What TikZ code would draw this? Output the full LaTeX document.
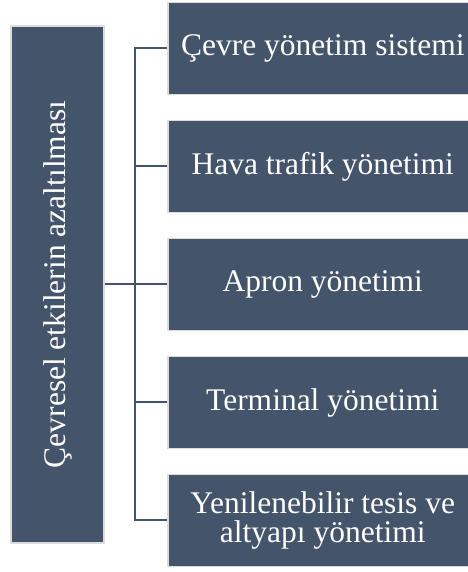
\documentclass[tikz,border=0pt]{standalone}
\usepackage{fontspec}
\setmainfont{Liberation Serif}
\definecolor{slate}{HTML}{44546A}
\definecolor{rim}{HTML}{DCDCDC}
\begin{document}
\begin{tikzpicture}[x=1pt,y=1pt,
  box/.style={fill=slate, draw=rim, line width=1.5pt, text=white, align=center,
    inner sep=0pt, font=\fontsize{31.5}{29}\selectfont},
  item/.style={box, minimum width=310pt, minimum height=92pt, anchor=west},
  link/.style={draw=slate, line width=2pt}]
\useasboundingbox (0,0) rectangle (467,572);
% root box, rotated label
\node[box, minimum width=93pt, minimum height=517pt] (root) at (57.5,287.5) {};
\node[text=white, rotate=90, font=\fontsize{31.5}{29}\selectfont] (rootlbl) at (root.center) {Çevresel etkilerin azaltılması};
% item boxes
\node[item] (a) at (167,523.5) {Çevre yönetim sistemi};
\node[item] (b) at (167,405.5) {Hava trafik yönetimi};
\node[item] (c) at (167,287.5) {Apron yönetimi};
\node[item] (d) at (167,169.5) {Terminal yönetimi};
\node[item] (e) at (167,51.5) {Yenilenebilir tesis ve\\altyapı yönetimi};
% bracket
\coordinate (bus) at (135,287.5);
\draw[link] (root.east) -- (bus);
\draw[link] (a.west) -| (bus) |- (e.west);
\draw[link] (b.west) -- (b.west -| bus);
\draw[link] (c.west) -- (bus);
\draw[link] (d.west) -- (d.west -| bus);
\end{tikzpicture}
\end{document}
